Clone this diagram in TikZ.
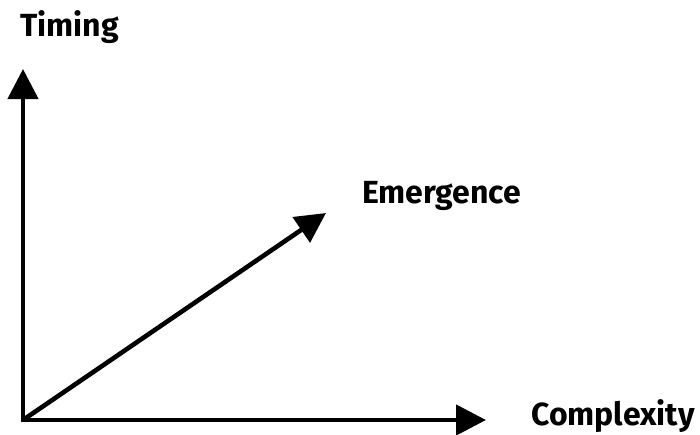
\documentclass[tikz,border=0pt]{standalone}
\usepackage{fontspec}
\setmainfont{Fira Sans}
\usetikzlibrary{arrows.meta}
\begin{document}
\begin{tikzpicture}[x=1pt,y=-1pt,
  axis/.style={line width=4.6pt,-{Triangle[length=30pt,width=30pt]}},
  lbl/.style={font=\fontsize{32}{37}\selectfont\bfseries,inner sep=0pt,anchor=base west}]
\useasboundingbox (0,0) rectangle (700,434);
\coordinate (O) at (23,420);
\coordinate (tY) at (23,69);
\coordinate (tX) at (486,420);
\coordinate (tE) at (326,213);
\draw[axis] ([yshift=-2.3pt]O) -- (tY);
\draw[axis] ([xshift=-2.3pt]O) -- (tX);
\draw[axis] (O) -- (tE);
\node[lbl] (timing) at (20,36) {Timing};
\node[lbl] (emerg) at (362,203) {Emergence};
\node[lbl] (compl) at (531,425) {Complexity};
\end{tikzpicture}
\end{document}
